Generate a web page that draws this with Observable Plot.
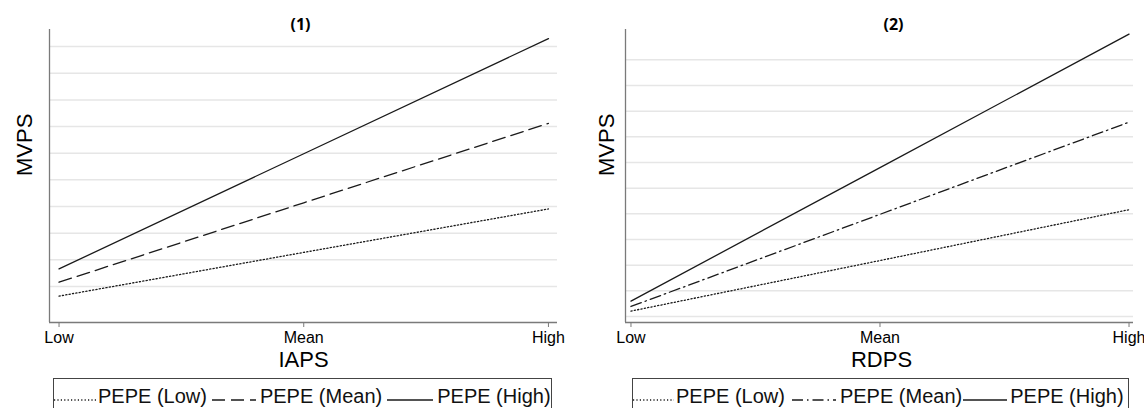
<!DOCTYPE html>
<html>
<head>
<meta charset="utf-8">
<script src="https://cdn.jsdelivr.net/npm/d3@7"></script>
<script src="https://cdn.jsdelivr.net/npm/@observablehq/plot@0.6"></script>
<style>
  html, body { margin: 0; padding: 0; background: #fff; }
  #root { position: relative; width: 1144px; height: 408px; overflow: hidden; font-family: "Liberation Sans", Arial, sans-serif; }
  .panel { position: absolute; top: 0; }
  .legend { position: absolute; top: 378px; height: 42px; border: 1px solid #444; box-sizing: border-box; }
  .legend .row { position: absolute; top: 7px; left: 0; display: flex; align-items: flex-start; white-space: nowrap; }
  .legend span { font-size: 20px; line-height: 20px; color: #111; }
  .legend svg { display: block; }
</style>
</head>
<body>
<div id="root"></div>
<script>
// ---------- data ----------
const levels = ["Low", "Mean", "High"];
const seriesNames = ["PEPE (Low)", "PEPE (Mean)", "PEPE (High)"];

const panelTitles = ["(1)", "(2)"];
const xTitles = ["IAPS", "RDPS"];
const yTitle = "MVPS";

// panel (1): MVPS by IAPS level
const p1Low  = [0.64, 2.28, 3.91];
const p1Mean = [1.16, 4.14, 7.12];
const p1High = [1.66, 5.98, 10.30];
const p1Grid = [1, 2, 3, 4, 5, 6, 7, 8, 9, 10];

// panel (2): MVPS by RDPS level
const p2Low  = [0.21, 2.18, 4.16];
const p2Mean = [0.39, 3.98, 7.57];
const p2High = [0.60, 5.80, 11.00];
const p2Grid = [0, 1, 2, 3, 4, 5, 6, 7, 8, 9, 10];

// ---------- drawing ----------
const FONT = "'Liberation Sans', Arial, sans-serif";
const INK = "#1a1a1a";
const AXIS = "#7a7a7a";

function rows(vals, name) {
  return levels.map((l, i) => ({x: i, y: vals[i], series: name}));
}

function panel(cfg) {
  const [x0, x1] = cfg.xDomain;
  const [y0, y1] = cfg.yDomain;
  return Plot.plot({
    width: 572,
    height: 372,
    marginTop: 29,
    marginBottom: 50,
    marginLeft: cfg.ml,
    marginRight: cfg.mr,
    style: {fontFamily: FONT, fontSize: "16px", color: "#000", background: "transparent"},
    x: {domain: cfg.xDomain, axis: null},
    y: {domain: cfg.yDomain, axis: null},
    marks: [
      Plot.ruleY(cfg.grid, {stroke: "#e6e6e6", strokeWidth: 1.5}),
      Plot.ruleX([x0], {stroke: AXIS, strokeWidth: 1.3}),
      Plot.ruleY([y0], {stroke: AXIS, strokeWidth: 1.3}),
      Plot.axisX([0, 1, 2], {
        tickFormat: d => levels[d], tickSize: 5, tickPadding: 4,
        stroke: AXIS, fill: "#000", fontSize: 16, label: null
      }),
      Plot.line(rows(cfg.low, seriesNames[0]), {x: "x", y: "y", stroke: INK, strokeWidth: 1.3, strokeDasharray: "1.2,2.2"}),
      Plot.line(rows(cfg.mean, seriesNames[1]), {x: "x", y: "y", stroke: INK, strokeWidth: 1.3, strokeDasharray: cfg.meanDash}),
      Plot.line(rows(cfg.high, seriesNames[2]), {x: "x", y: "y", stroke: INK, strokeWidth: 1.3}),
      Plot.text([cfg.title], {frameAnchor: "top", lineAnchor: "middle", dy: -5, dx: cfg.titleDx, text: d => d,
        fontFamily: "'Open Sans', sans-serif", fontWeight: 700, fontSize: 16, fill: "#000"}),
      Plot.text([cfg.xTitle], {frameAnchor: "bottom", lineAnchor: "middle", dy: 37, dx: cfg.xTitleDx, text: d => d, fontSize: 22, fill: "#000"}),
      Plot.text([yTitle], {frameAnchor: "left", lineAnchor: "middle", dx: cfg.yTitleDx, rotate: -90, text: d => d, fontSize: 22, fill: "#000"})
    ]
  });
}

const root = document.getElementById("root");

const cfgs = [
  {left: 0, ml: 49, mr: 15, xDomain: [-0.039, 2.037], yDomain: [-0.35, 10.64], grid: p1Grid,
   low: p1Low, mean: p1Mean, high: p1High, meanDash: "13,6",
   title: panelTitles[0], titleDx: -3, xTitle: xTitles[0], xTitleDx: 0, yTitleDx: -25},
  {left: 572, ml: 53, mr: 11, xDomain: [-0.022, 2.018], yDomain: [-0.234, 11.18], grid: p2Grid,
   low: p2Low, mean: p2Mean, high: p2High, meanDash: "11,4,1.5,4",
   title: panelTitles[1], titleDx: 14, xTitle: xTitles[1], xTitleDx: 2, yTitleDx: -19}
];

for (const c of cfgs) {
  const wrap = document.createElement("div");
  wrap.className = "panel";
  wrap.style.left = c.left + "px";
  wrap.appendChild(panel(c));
  root.appendChild(wrap);
}

// ---------- legends (HTML, below the plots) ----------
function sample(w, dash) {
  const ns = "http://www.w3.org/2000/svg";
  const s = document.createElementNS(ns, "svg");
  s.setAttribute("width", w);
  s.setAttribute("height", 20);
  const l = document.createElementNS(ns, "line");
  l.setAttribute("x1", 0); l.setAttribute("x2", w);
  l.setAttribute("y1", 14); l.setAttribute("y2", 14);
  l.setAttribute("stroke", INK);
  l.setAttribute("stroke-width", 1.3);
  if (dash) l.setAttribute("stroke-dasharray", dash);
  s.appendChild(l);
  return s;
}
function spacer(w) {
  const d = document.createElement("div");
  d.style.width = w + "px";
  d.style.flex = "none";
  return d;
}
function legend(left, width, dashes, gaps) {
  const box = document.createElement("div");
  box.className = "legend";
  box.style.left = left + "px";
  box.style.width = width + "px";
  const row = document.createElement("div");
  row.className = "row";
  seriesNames.forEach((name, i) => {
    row.appendChild(spacer(gaps[i][0]));
    row.appendChild(sample(gaps[i][1], dashes[i]));
    row.appendChild(spacer(gaps[i][2]));
    const t = document.createElement("span");
    t.textContent = name;
    row.appendChild(t);
  });
  box.appendChild(row);
  root.appendChild(box);
}
legend(53, 499, ["1.2,2.2", "13,6", null], [[0, 43, 1], [5, 44, 4], [5, 46, 4]]);
legend(632, 497, ["1.2,2.2", "11,4,1.5,4", null], [[0, 41, 2], [7, 44, 4], [1, 44, 3]]);
</script>
</body>
</html>
